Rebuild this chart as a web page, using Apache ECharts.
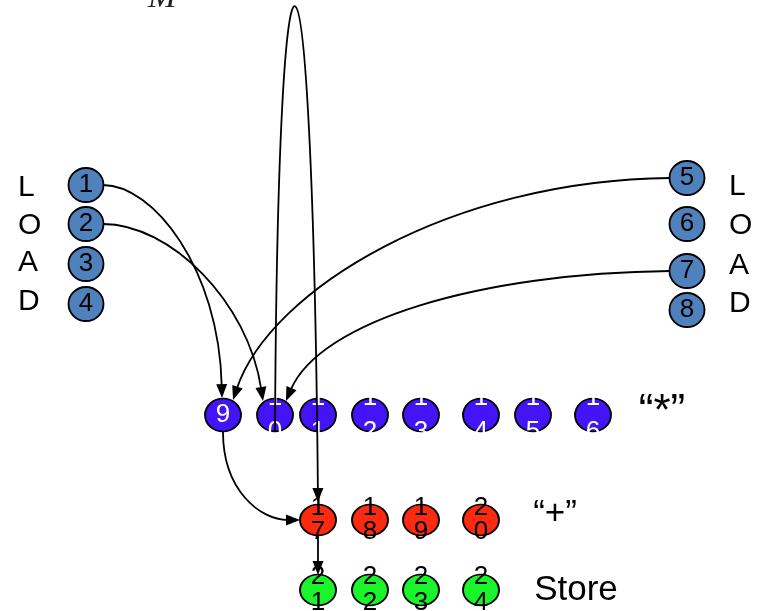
<!DOCTYPE html>
<html>
<head>
<meta charset="utf-8">
<script src="https://cdn.jsdelivr.net/npm/echarts@6/dist/echarts.min.js"></script>
<style>html,body{margin:0;padding:0;background:#fff;}#c{width:759px;height:611px;}</style>
</head>
<body>
<div id="c"></div>
<script>
// ---- data ----
const nodeIds = ['1','2','3','4','5','6','7','8','9','10','11','12','13','14','15','16','17','18','19','20','21','22','23','24'];
const nodeX = [86,86,86,86, 687,687,687,687, 223,275,318,370,421,481,533,593, 318,370,421,481, 318,370,421,481];
const nodeY = [185,224,264,304, 178,224,271,310, 415,415,415,415,415,415,415,415, 520,520,520,520, 590,590,590,590];
const nodeGroup = ['load','load','load','load','load','load','load','load',
  'mul','mul','mul','mul','mul','mul','mul','mul',
  'add','add','add','add','store','store','store','store'];
const edges = [[1,9],[2,10],[5,9],[7,10],[10,17],[9,17],[17,21]];
const sideLetters = ['L','O','A','D'];
const leftLetterY = [188,226,263,302];
const rightLetterY = [187,226,266,304];
const rowLabels = ['\u201c*\u201d','\u201c+\u201d','Store'];
const rowLabelX = [662,555,576];
const rowLabelY = [413,514,590];

// ---- styling / geometry (not data) ----
const rowLabelSize = [44,35,35];
const groupStyle = {
  load: {color:'#4F81BD', text:'#000', lh:24, size:[35,34]},
  mul:  {color:'#4414F8', text:'#fff', lh:34, size:[36,33]},
  add:  {color:'#FB2A10', text:'#000', lh:24, size:[36,31]},
  store:{color:'#19F42B', text:'#000', lh:26, size:[36,31]}
};
// anchor offset at start, handle from start, handle from end, anchor offset at end
const edgeShape = [
  {a:[17,0],  h1:[50,0],    h2:[-3,-130], b:[-1,-17]},
  {a:[17,0],  h1:[67,0],    h2:[-15,-100],b:[-12,-14]},
  {a:[-17,0], h1:[-220,2],  h2:[37,-110], b:[10,-15]},
  {a:[-17,0], h1:[-190,2],  h2:[34,-80],  b:[11,-14]},
  {a:[0,16],  h1:[3,-576],  h2:[-6,-647], b:[0,-18]},
  {a:[0,17],  h1:[0,58],    h2:[-40,0],   b:[-18,0]},
  {a:[0,16],  h1:[0,10],    h2:[0,-10],   b:[0,-15]}
];
const FONT = 'Liberation Sans, Arial, sans-serif';

const nodeData = nodeIds.map((id,i)=>{
  const st = groupStyle[nodeGroup[i]];
  return {
    value:[nodeX[i], nodeY[i]],
    symbolSize: st.size,
    itemStyle:{color:st.color, borderColor:'#000', borderWidth:1.8, opacity:1},
    label:{show:true, formatter: id.length>1 ? id.split('').join('\n') : id,
      color:st.text, lineHeight:st.lh, fontSize:26, fontFamily:FONT}
  };
});

const letterData = [];
sideLetters.forEach((l,i)=>{ letterData.push({value:[18,leftLetterY[i]], name:l}); });
sideLetters.forEach((l,i)=>{ letterData.push({value:[729,rightLetterY[i]], name:l}); });
const rowData = rowLabels.map((t,i)=>({value:[rowLabelX[i],rowLabelY[i]], name:t,
  label:{fontSize:rowLabelSize[i]}}));

const chart = echarts.init(document.getElementById('c'));
chart.setOption({
  animation:false,
  backgroundColor:'#fff',
  grid:{left:0,right:0,top:0,bottom:0},
  xAxis:{type:'value',min:0,max:759,show:false},
  yAxis:{type:'value',min:0,max:611,inverse:true,show:false},
  graphic:[{
    type:'text', left:148, top:-19,
    style:{text:'M', font:'italic 34px "Liberation Serif", serif', fill:'#222'}
  }],
  series:[
    {
      type:'scatter', z:2, symbol:'circle', data:nodeData,
      itemStyle:{opacity:1},
      label:{position:'inside'},
      emphasis:{disabled:true}
    },
    {
      type:'custom', z:5, coordinateSystem:'cartesian2d',
      data: edges.map((e,i)=>[i]),
      encode:{x:-1,y:-1},
      renderItem:function(params, api){
        const i = params.dataIndex;
        const e = edges[i], s = edgeShape[i];
        const f = e[0]-1, t = e[1]-1;
        const p0d = [nodeX[f]+s.a[0], nodeY[f]+s.a[1]];
        const p3d = [nodeX[t]+s.b[0], nodeY[t]+s.b[1]];
        const p0 = api.coord(p0d);
        const c1 = api.coord([p0d[0]+s.h1[0], p0d[1]+s.h1[1]]);
        const c2 = api.coord([p3d[0]+s.h2[0], p3d[1]+s.h2[1]]);
        const p3 = api.coord(p3d);
        let dx = p3[0]-c2[0], dy = p3[1]-c2[1];
        const len = Math.sqrt(dx*dx+dy*dy) || 1;
        dx/=len; dy/=len;
        const L = 14, W = 5.5;
        const bx = p3[0]-dx*L, by = p3[1]-dy*L;
        return {
          type:'group',
          children:[
            {type:'bezierCurve',
             shape:{x1:p0[0],y1:p0[1],cpx1:c1[0],cpy1:c1[1],cpx2:c2[0],cpy2:c2[1],x2:bx+dx*2,y2:by+dy*2},
             style:{stroke:'#000',lineWidth:1.8,fill:null}},
            {type:'polygon',
             shape:{points:[[p3[0],p3[1]],[bx-dy*W,by+dx*W],[bx+dy*W,by-dx*W]]},
             style:{fill:'#000'}}
          ]
        };
      }
    },
    {
      type:'scatter', z:3, symbolSize:1, itemStyle:{color:'rgba(0,0,0,0)',opacity:1},
      data:letterData, emphasis:{disabled:true},
      label:{show:true, position:'inside', align:'left', formatter:'{b}', color:'#000',
        fontSize:30, fontFamily:FONT}
    },
    {
      type:'scatter', z:3, symbolSize:1, itemStyle:{color:'rgba(0,0,0,0)',opacity:1},
      data:rowData, emphasis:{disabled:true},
      label:{show:true, position:'inside', formatter:'{b}', color:'#000',
        fontSize:35, fontFamily:FONT}
    }
  ]
});
</script>
</body>
</html>
